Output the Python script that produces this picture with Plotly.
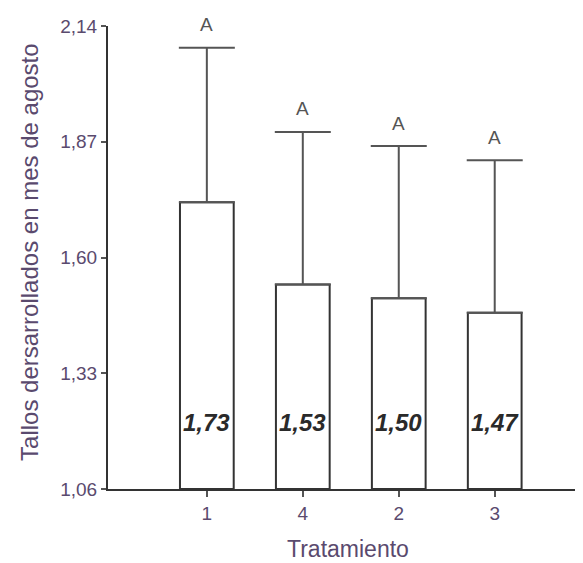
import plotly.graph_objects as go

categories = ["1", "4", "2", "3"]
means = [1.729, 1.537, 1.505, 1.471]
errors = [0.360, 0.356, 0.355, 0.356]
value_labels = ["1,73", "1,53", "1,50", "1,47"]
group_letters = ["A", "A", "A", "A"]
y_ticks = [1.06, 1.33, 1.60, 1.87, 2.14]
y_tick_labels = ["1,06", "1,33", "1,60", "1,87", "2,14"]

FONT = "Liberation Sans"
TXT = "#5a4a6e"
xpos = list(range(len(categories)))

fig = go.Figure()
fig.add_trace(go.Bar(
    x=xpos, y=[m - 1.06 for m in means], base=1.06,
    width=0.56,
    marker=dict(color="white", line=dict(color="#333333", width=2)),
    error_y=dict(type="data", symmetric=False, array=errors,
                 arrayminus=[0] * len(errors),
                 color="#555555", thickness=2, width=28),
    hoverinfo="skip",
))

for x, m, e, lab, letter in zip(xpos, means, errors, value_labels, group_letters):
    fig.add_annotation(x=x, y=1.215, text=f"<b><i>{lab}</i></b>", showarrow=False,
                       font=dict(family=FONT, size=24, color="#2a2a2a"),
                       bgcolor="white", borderpad=0, yanchor="middle")
    fig.add_annotation(x=x, y=m + e, text=letter, showarrow=False, yshift=23,
                       yanchor="middle",
                       font=dict(family=FONT, size=19, color="#555555"))

# axis titles
fig.add_annotation(xref="paper", yref="paper", x=(22 - 100) / 475, y=0.512,
                   text="Tallos dersarrollados en mes de agosto", textangle=-90,
                   showarrow=False, xanchor="center", yanchor="middle",
                   font=dict(family=FONT, size=24, color=TXT))
fig.add_annotation(xref="paper", yref="paper", x=0.505, y=0, yshift=-60,
                   text="Tratamiento", showarrow=False,
                   xanchor="center", yanchor="middle",
                   font=dict(family=FONT, size=23, color=TXT))

fig.update_layout(
    width=575, height=555,
    margin=dict(l=100, r=0, t=18, b=74),
    plot_bgcolor="white", paper_bgcolor="white",
    showlegend=False,
    font=dict(family=FONT, color="#555555"),
    xaxis=dict(range=[-1.03, 3.92], tickvals=xpos, ticktext=categories,
               showline=True, linecolor="#333333", linewidth=2,
               ticks="outside", ticklen=6, tickwidth=2, tickcolor="#555555",
               showgrid=False, zeroline=False, automargin=False,
               tickfont=dict(size=19, color=TXT)),
    yaxis=dict(range=[1.06, 2.14], tickvals=y_ticks, ticktext=y_tick_labels,
               showline=True, linecolor="#333333", linewidth=2,
               ticks="outside", ticklen=5, tickwidth=2, tickcolor="#555555",
               showgrid=False, zeroline=False, automargin=False,
               tickfont=dict(size=19, color=TXT)),
)

fig.write_html("out.html")
